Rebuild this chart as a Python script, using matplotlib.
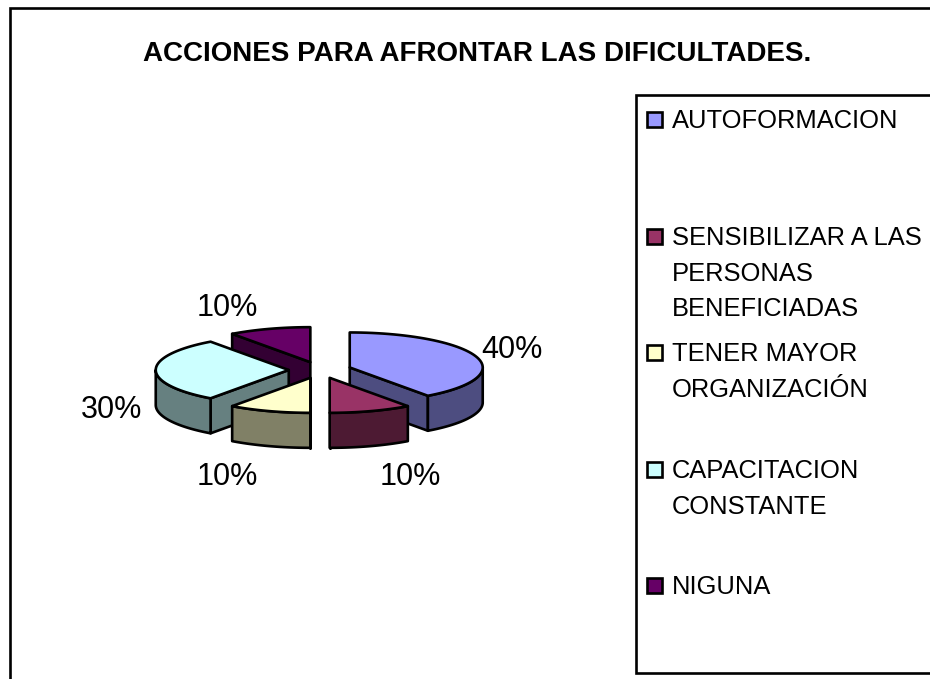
import numpy as np
import matplotlib
matplotlib.use('Agg')
import matplotlib.pyplot as plt
from matplotlib.patches import Rectangle

plt.rcParams['font.family'] = ['Liberation Sans', 'DejaVu Sans']

TITLE = 'ACCIONES PARA AFRONTAR LAS DIFICULTADES.'
categories = ['AUTOFORMACION',
              'SENSIBILIZAR A LAS\nPERSONAS\nBENEFICIADAS',
              'TENER MAYOR\nORGANIZACIÓN',
              'CAPACITACION\nCONSTANTE',
              'NIGUNA']
values = [40, 10, 10, 30, 10]
top_colors = ['#9999FF', '#993366', '#FFFFCC', '#CCFFFF', '#660066']
side_colors = ['#4D4D80', '#4D1A33', '#808066', '#668080', '#330033']

# canvas is laid out in pixels, y going down
W, H = 930, 679
CX, CY = 320, 370
RX, RY = 133, 35
DEPTH = 35
EXPLODE = 0.235
LW = 1.9

label_pos = [(512, 350), (410, 477), (227, 477), (112, 410), (227, 308)]
legend_y = [120, 237, 353, 470, 586]
LINE_STEP = 35.7


def rim(cx, cy, a0, a1, dy=0):
    # angles run clockwise from twelve o'clock
    t = np.radians(np.linspace(a0, a1, 60))
    return np.column_stack([cx + RX * np.sin(t), cy - RY * np.cos(t) + dy])


def draw_slice(ax, cx, cy, a0, a1, top, side):
    z = 3
    # radial cut faces which look to the viewer
    for a in (a0, a1):
        t = np.radians(a)
        px, py = cx + RX * np.sin(t), cy - RY * np.cos(t)
        faces_front = (a == a0 and 180 <= a % 360 < 360) or (a == a1 and 0 < a % 360 <= 180)
        if faces_front:
            ax.fill([cx, px, px, cx], [cy, py, py + DEPTH, cy + DEPTH],
                    fc=side, ec='k', lw=LW, zorder=z, joinstyle='round')
    # outer wall, front half only
    lo, hi = max(a0, 90), min(a1, 270)
    if lo < hi:
        up = rim(cx, cy, lo, hi)
        down = rim(cx, cy, hi, lo, DEPTH)
        wall = np.vstack([up, down])
        ax.fill(wall[:, 0], wall[:, 1], fc=side, ec='k', lw=LW, zorder=z, joinstyle='round')
    edge = rim(cx, cy, a0, a1)
    ax.fill(np.r_[cx, edge[:, 0]], np.r_[cy, edge[:, 1]], fc=top, ec='k', lw=LW,
            zorder=z, joinstyle='round')


def main():
    fig = plt.figure(figsize=(W / 100, H / 100), dpi=100)
    ax = fig.add_axes([0, 0, 1, 1])
    ax.set_xlim(0, W)
    ax.set_ylim(H, 0)
    ax.axis('off')

    # chart frame and legend box run off the edge of the picture
    ax.add_patch(Rectangle((10, 8), W + 20, H + 20, fc='white', ec='k', lw=LW))
    ax.add_patch(Rectangle((636, 95), W, 578, fc='white', ec='k', lw=LW))

    ax.text(477, 54, TITLE, ha='center', va='center', fontsize=20, fontweight='bold')

    shares = np.array(values) / sum(values) * 360
    ends = np.cumsum(shares)
    starts = ends - shares
    mids = (starts + ends) / 2
    centers = [(CX + EXPLODE * RX * np.sin(np.radians(m)),
                CY - EXPLODE * RY * np.cos(np.radians(m))) for m in mids]

    # back slices first
    for i in (4, 3, 2, 0, 1):
        draw_slice(ax, centers[i][0], centers[i][1], starts[i], ends[i],
                   top_colors[i], side_colors[i])

    for v, (x, y) in zip(values, label_pos):
        ax.text(x, y, '%d%%' % v, ha='center', va='center', fontsize=22, zorder=5)

    for name, y, c in zip(categories, legend_y, top_colors):
        ax.add_patch(Rectangle((647, y - 8), 15, 15, fc=c, ec='k', lw=LW, zorder=4))
        for j, line in enumerate(name.split('\n')):
            ax.text(672, y + 1 + j * LINE_STEP, line, ha='left', va='center', fontsize=18.4, zorder=4)

    fig.savefig('out.png', dpi=100)


if __name__ == '__main__':
    main()
